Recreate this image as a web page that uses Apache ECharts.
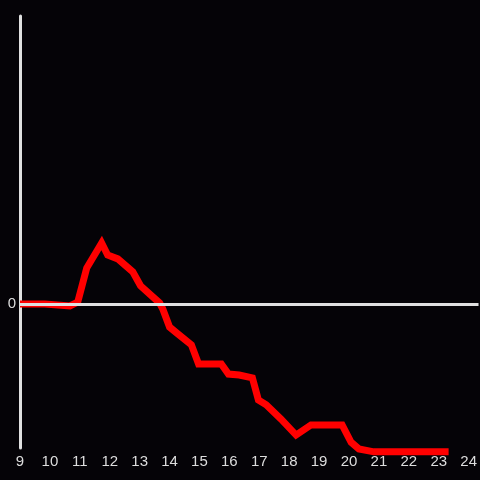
<!DOCTYPE html>
<html>
<head>
<meta charset="utf-8">
<script src="https://cdn.jsdelivr.net/npm/echarts@6/dist/echarts.min.js"></script>
<style>
  html, body { margin: 0; padding: 0; background: #050307; }
  #chart { width: 480px; height: 480px; }
</style>
</head>
<body>
<div id="chart"></div>
<script>
// hour of day
let hours = [9.0, 9.83, 10.67, 10.93, 11.23, 11.73, 11.93, 12.27, 12.77, 13.03, 13.67, 13.77,
    14.0, 14.23, 14.73, 14.97, 15.73, 15.97, 16.33, 16.77, 16.97, 17.23, 17.73, 18.23,
    18.73, 19.77, 20.07, 20.33, 20.83, 23.33];
let values = [0, 0, -0.04, 0.04, 0.75, 1.27, 1.02, 0.94, 0.67, 0.38, 0.02, -0.1,
    -0.48, -0.6, -0.85, -1.25, -1.25, -1.46, -1.48, -1.54, -2.0, -2.1, -2.4, -2.73,
    -2.52, -2.52, -2.88, -3.02, -3.08, -3.08];
let zero_line = [0];

let chart = echarts.init(document.getElementById('chart'));

let series_data = hours.map(function (h, i) { return [h, values[i]]; });

let options = {
    backgroundColor: '#050307',
    animation: false,
    grid: { left: 20, right: 0, top: 16, bottom: 32 },
    xAxis: {
        type: 'value',
        min: 9,
        max: 24.33,
        interval: 1,
        axisLine: { show: false },
        axisTick: { show: false },
        splitLine: { show: false },
        axisLabel: {
            color: '#dddddd',
            fontFamily: 'Liberation Sans',
            fontSize: 15,
            margin: 6,
            showMaxLabel: false,
            formatter: function (v) { return Number.isInteger(v) ? String(v) : ''; }
        }
    },
    yAxis: {
        type: 'value',
        min: -3,
        max: 6,
        interval: 3,
        axisLine: { show: true, onZero: false, lineStyle: { color: '#e0e0e0', width: 3 } },
        axisTick: { show: false },
        splitLine: { show: false },
        axisLabel: {
            color: '#dddddd',
            fontFamily: 'Liberation Sans',
            fontSize: 15,
            margin: 4,
            formatter: function (v) { return v === 0 ? '0' : ''; }
        }
    },
    series: [
        {
            type: 'line',
            data: [],
            z: 1,
            silent: true,
            markLine: {
                silent: true,
                symbol: ['none', 'none'],
                label: { show: false },
                lineStyle: { color: '#e0e0e0', width: 3, type: 'solid' },
                data: zero_line.map(function (v) { return { yAxis: v }; })
            }
        },
        {
            type: 'line',
            data: series_data,
            z: 3,
            clip: false,
            showSymbol: false,
            lineStyle: { color: '#ff0000', width: 7, cap: 'butt', join: 'miter' }
        }
    ]
};

chart.setOption(options);
</script>
</body>
</html>
